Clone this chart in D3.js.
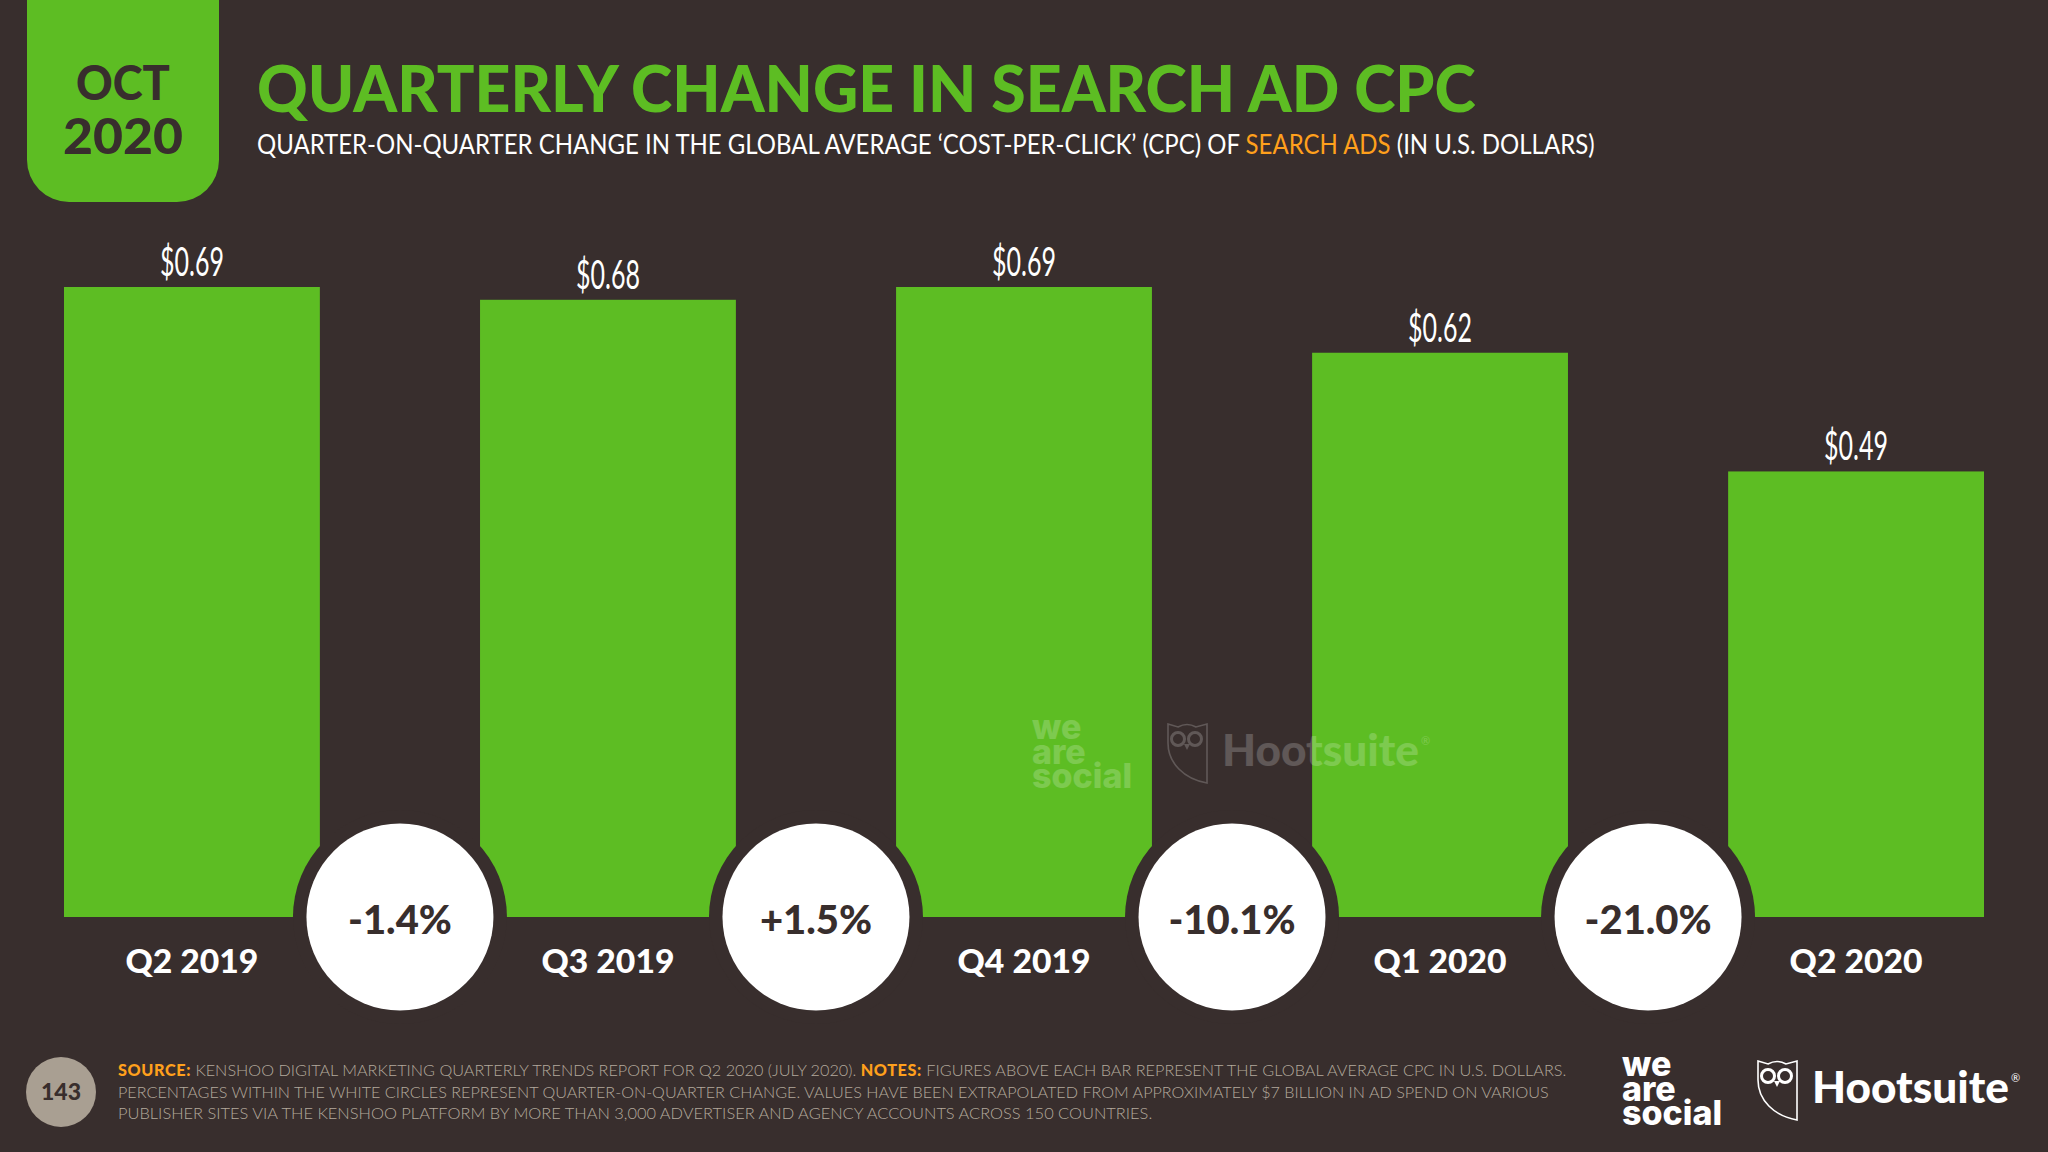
<!DOCTYPE html>
<html>
<head>
<meta charset="utf-8">
<script src="https://cdn.jsdelivr.net/npm/d3@7"></script>
<style>
  html, body { margin: 0; padding: 0; background: #382e2d; }
  svg { display: block; }
  text { font-family: Lato, sans-serif; }
</style>
</head>
<body>
<svg id="chart" width="2048" height="1152"></svg>
<script>
const quarters = ["Q2 2019", "Q3 2019", "Q4 2019", "Q1 2020", "Q2 2020"];
const cpcValues = [0.69, 0.676, 0.69, 0.618, 0.488];
const changeLabels = ["-1.4%", "+1.5%", "-10.1%", "-21.0%"];

const subtitleParts = [
  { text: "QUARTER-ON-QUARTER CHANGE IN THE GLOBAL AVERAGE ‘COST-PER-CLICK’ (CPC) OF ", accent: false },
  { text: "SEARCH ADS", accent: true },
  { text: " (IN U.S. DOLLARS)", accent: false }
];

const footnoteLines = [
  [
    { text: "SOURCE:", accent: true },
    { text: " KENSHOO DIGITAL MARKETING QUARTERLY TRENDS REPORT FOR Q2 2020 (JULY 2020). ", accent: false },
    { text: "NOTES:", accent: true },
    { text: " FIGURES ABOVE EACH BAR REPRESENT THE GLOBAL AVERAGE CPC IN U.S. DOLLARS.", accent: false }
  ],
  [{ text: "PERCENTAGES WITHIN THE WHITE CIRCLES REPRESENT QUARTER-ON-QUARTER CHANGE. VALUES HAVE BEEN EXTRAPOLATED FROM APPROXIMATELY $7 BILLION IN AD SPEND ON VARIOUS", accent: false }],
  [{ text: "PUBLISHER SITES VIA THE KENSHOO PLATFORM BY MORE THAN 3,000 ADVERTISER AND AGENCY ACCOUNTS ACROSS 150 COUNTRIES.", accent: false }]
];

const GREEN = "#5dbd23";
const DARK = "#382e2d";
const ORANGE = "#ffa01c";
const TAUPE = "#b3a99c";

const svg = d3.select("#chart");

svg.append("rect").attr("width", 2048).attr("height", 1152).attr("fill", DARK);

// squeezes a text to a target width, the original font is narrower than Lato
function fit(node, x, y, width) {
  const length = node.node().getComputedTextLength();
  node.attr("x", 0).attr("y", 0)
    .attr("transform", `translate(${x},${y}) scale(${width / length},1)`);
  return node;
}

function addParts(node, parts, color) {
  node.selectAll("tspan")
    .data(parts)
    .join("tspan")
    .style("white-space", "pre")
    .attr("fill", (part) => (part.accent ? ORANGE : color))
    .text((part) => part.text);
}

// header
svg.append("path")
  .attr("d", "M27,-2 H219 V160 A42,42 0 0 1 177,202 H69 A42,42 0 0 1 27,160 Z")
  .attr("fill", GREEN);

fit(svg.append("text").attr("text-anchor", "middle").attr("font-size", 48).attr("font-weight", 900)
  .attr("fill", DARK).text("OCT"), 123, 100, 94);
fit(svg.append("text").attr("text-anchor", "middle").attr("font-size", 49).attr("font-weight", 900)
  .attr("fill", DARK).text("2020"), 123, 154, 120);

fit(svg.append("text").attr("font-size", 65).attr("font-weight", 900)
  .attr("fill", GREEN).text("QUARTERLY CHANGE IN SEARCH AD CPC"), 257, 112, 1219);

const subtitle = svg.append("text").attr("font-size", 26).attr("font-weight", 400);
addParts(subtitle, subtitleParts, "#ffffff");
fit(subtitle, 257, 154, 1338);

// bars
const x = d3.scaleBand()
  .domain(quarters)
  .range([64, 1984])
  .paddingInner(0.385);

const y = d3.scaleLinear()
  .domain([0, d3.max(cpcValues)])
  .range([917, 287]);

const rows = quarters.map((quarter, i) => ({ quarter, value: cpcValues[i] }));

svg.append("g")
  .selectAll("rect")
  .data(rows)
  .join("rect")
  .attr("x", (row) => x(row.quarter))
  .attr("y", (row) => y(row.value))
  .attr("width", x.bandwidth())
  .attr("height", (row) => y(0) - y(row.value))
  .attr("fill", GREEN);

const valueFormat = d3.format("$.2f");

svg.append("g")
  .selectAll("text")
  .data(rows)
  .join("text")
  .attr("text-anchor", "middle")
  .attr("font-size", 40)
  .attr("fill", "#ffffff")
  .text((row) => valueFormat(row.value))
  .each(function (row) {
    fit(d3.select(this), x(row.quarter) + x.bandwidth() / 2, y(row.value) - 11, 64);
  });

const axis = svg.append("g")
  .attr("transform", "translate(0,917)")
  .call(d3.axisBottom(x).tickSize(0));
axis.select(".domain").remove();
axis.selectAll("text")
  .attr("font-size", 32)
  .attr("font-weight", 900)
  .attr("fill", "#ffffff")
  .attr("dy", null)
  .each(function () {
    fit(d3.select(this), 0, 56, 133);
  });

// change bubbles sit in the gap between two bars
const bubbleX = (i) => x(quarters[i]) + x.bandwidth() + x.step() * x.paddingInner() / 2;

const bubbles = svg.append("g")
  .selectAll("g")
  .data(changeLabels)
  .join("g")
  .attr("transform", (label, i) => `translate(${bubbleX(i)},917)`);

bubbles.append("circle").attr("r", 107).attr("fill", DARK);
bubbles.append("circle").attr("r", 93.5).attr("fill", "#ffffff");
bubbles.append("text")
  .attr("text-anchor", "middle")
  .attr("font-size", 40)
  .attr("font-weight", 900)
  .attr("fill", DARK)
  .attr("x", 0)
  .attr("y", 17)
  .text((label) => label);

// footer
svg.append("circle").attr("cx", 61).attr("cy", 1092).attr("r", 35).attr("fill", "#a99f92");
svg.append("text")
  .attr("x", 61).attr("y", 1100)
  .attr("text-anchor", "middle")
  .attr("font-size", 23)
  .attr("font-weight", 900)
  .attr("fill", DARK)
  .text("143");

const footnoteWidths = [1450, 1431, 1035];
footnoteLines.forEach((parts, i) => {
  const line = svg.append("text").attr("font-size", 16.5);
  addParts(line, parts, TAUPE);
  line.selectAll("tspan")
    .attr("font-weight", (part) => (part.accent ? 900 : 300))
    .attr("letter-spacing", (part) => (part.accent ? 0.6 : null));
  fit(line, 118, 1076 + i * 21.5, footnoteWidths[i]);
});

function drawLogos(parent) {
  const words = parent.append("text")
    .style("font-family", "Inter, sans-serif")
    .attr("font-size", 34)
    .attr("font-weight", 800)
    .attr("fill", "#ffffff");
  words.selectAll("tspan")
    .data(["we", "are", "social"])
    .join("tspan")
    .attr("x", 1622)
    .attr("y", (word, i) => 1076 + i * 24.5)
    .text((word) => word);

  // owl outline with its ear notches
  parent.append("path")
    .attr("d", "M1758,1061 L1768,1064 Q1777,1059 1786,1064 L1797,1061 V1120 C1774,1116 1758,1100 1758,1080 Z")
    .attr("fill", "none")
    .attr("stroke", "#ffffff")
    .attr("stroke-width", 1.6);
  [1768, 1785].forEach((cx) => {
    parent.append("circle").attr("cx", cx).attr("cy", 1076).attr("r", 6.5)
      .attr("fill", DARK).attr("stroke", "#ffffff").attr("stroke-width", 3);
  });
  parent.append("path")
    .attr("d", "M1774,1081 H1780 L1777,1087 Z")
    .attr("fill", "#ffffff");

  const wordmark = parent.append("text")
    .attr("font-size", 44)
    .attr("font-weight", 900)
    .attr("fill", "#ffffff")
    .text("Hootsuite");
  fit(wordmark, 1812, 1103, 197);

  parent.append("text")
    .attr("x", 2011).attr("y", 1082)
    .attr("font-size", 11)
    .attr("fill", "#ffffff")
    .text("®");
}

drawLogos(svg.append("g"));
drawLogos(svg.append("g").attr("transform", "translate(-590,-337)").attr("opacity", 0.2));
</script>
</body>
</html>
